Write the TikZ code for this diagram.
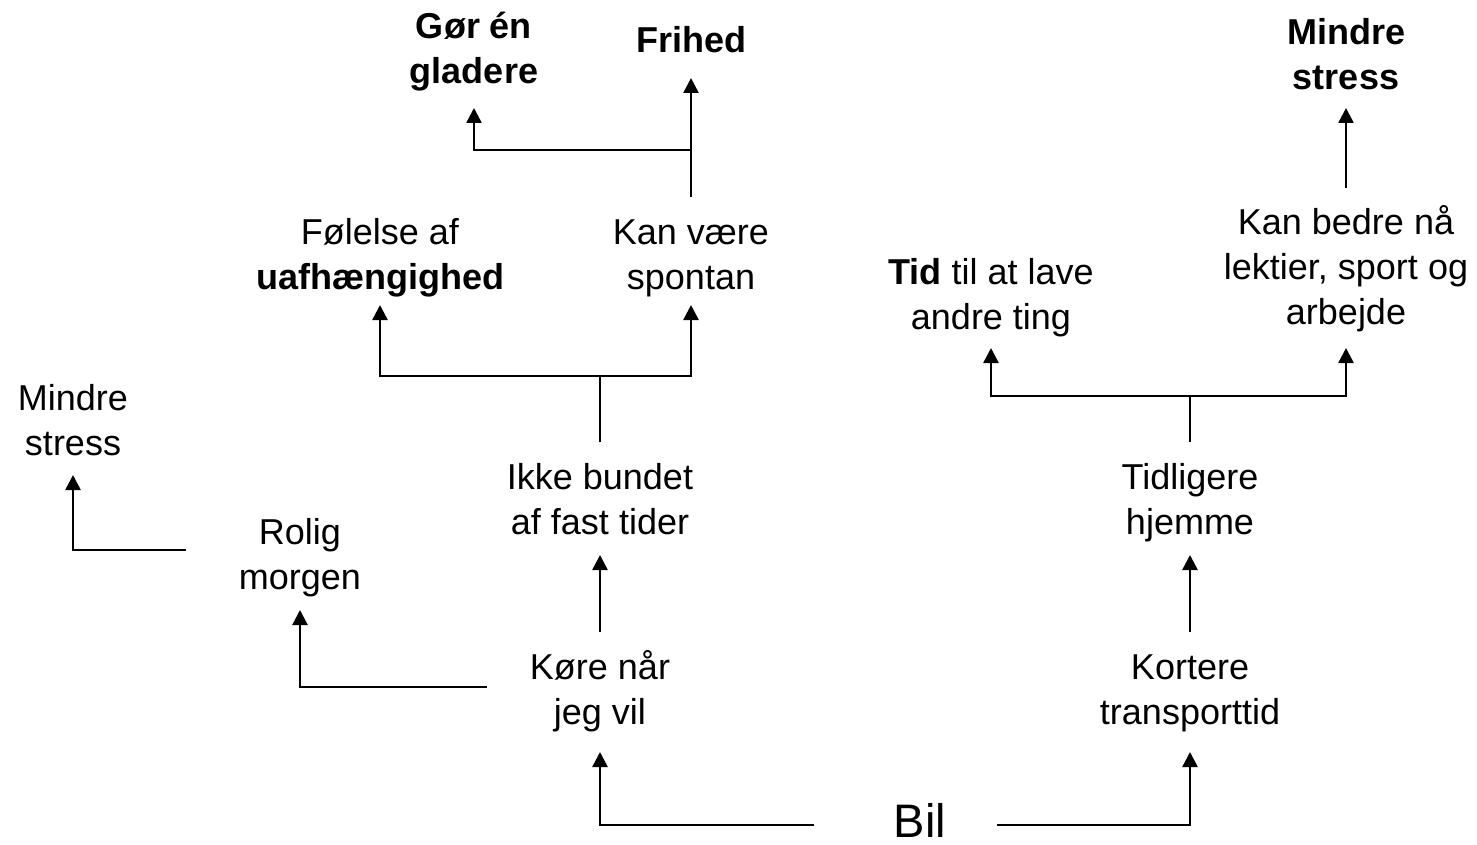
\documentclass[tikz,border=0pt]{standalone}
\usepackage{fontspec}
\setmainfont{Liberation Sans}
\usetikzlibrary{arrows.meta}
\begin{document}
\begin{tikzpicture}[x=1pt,y=-1pt,
  lbl/.style={align=center,inner sep=0pt,anchor=base,font=\fontsize{36}{45}\selectfont},
  biglbl/.style={inner sep=0pt,anchor=base,font=\fontsize{47}{56}\selectfont},
  ln/.style={line width=2.5pt},
  arr/.style={line width=2.5pt,-{Triangle[length=15pt,width=15pt]}}]
\useasboundingbox (0,0) rectangle (1477,845);

% nodes (placed by the baseline of their last line)
\node[lbl] (gor) at (474,84) {\textbf{Gør én}\\\textbf{gladere}};
\node[lbl] (frihed) at (691,53) {\textbf{Frihed}};
\node[lbl] (mindreR) at (1346,90) {\textbf{Mindre}\\\textbf{stress}};
\node[lbl] (folelse) at (380,289) {Følelse af\\\textbf{uafhængighed}};
\node[lbl] (kanvaere) at (691,289) {Kan være\\spontan};
\node[lbl] (tid) at (991,329) {\textbf{Tid} til at lave\\andre ting};
\node[lbl] (kanbedre) at (1346,324) {Kan bedre nå\\lektier, sport og\\arbejde};
\node[lbl] (mindreL) at (73,455) {Mindre\\stress};
\node[lbl] (ikke) at (600,534) {Ikke bundet\\af fast tider};
\node[lbl] (tidligere) at (1190,534) {Tidligere\\hjemme};
\node[lbl] (rolig) at (300,589) {Rolig\\morgen};
\node[lbl] (kore) at (600,724) {Køre når\\jeg vil};
\node[lbl] (kortere) at (1190,724) {Kortere\\transporttid};
\node[biglbl] (bil) at (920,837) {Bil};

% junctions
\coordinate (j1) at ([yshift=158pt]ikke.base);
\coordinate (j2) at ([yshift=139pt]kanvaere.base);
\coordinate (j3) at ([yshift=138pt]tidligere.base);

% connectors
\draw[arr] ([xshift=-80pt,yshift=12pt]bil.base west) -| ([yshift=-28pt]kore.base);
\draw[arr] ([xshift=51pt,yshift=12pt]bil.base east) -| ([yshift=-28pt]kortere.base);
\draw[arr] ([yshift=92pt]kore.base) -- ([yshift=-21pt]ikke.base);
\draw[arr] ([yshift=92pt]kortere.base) -- ([yshift=-21pt]tidligere.base);
\draw[arr] ([xshift=-113pt,yshift=37pt]kore.base) -| ([yshift=-21pt]rolig.base);
\draw[arr] ([xshift=-114pt,yshift=39pt]rolig.base) -| ([yshift=-20pt]mindreL.base);

\draw[ln] ([yshift=92pt]ikke.base) -- (j1);
\draw[arr] (j1) -| ([yshift=-16pt]folelse.base);
\draw[arr] (j1) -| ([yshift=-16pt]kanvaere.base);

\draw[arr] ([yshift=92pt]kanvaere.base) -- ([yshift=-25pt]frihed.base);
\draw[arr] (j2) -| ([yshift=-24pt]gor.base);

\draw[ln] ([yshift=92pt]tidligere.base) -- (j3);
\draw[arr] (j3) -| ([yshift=-19pt]tid.base);
\draw[arr] (j3) -| ([yshift=-24pt]kanbedre.base);

\draw[arr] ([yshift=136pt]kanbedre.base) -- ([yshift=-18pt]mindreR.base);
\end{tikzpicture}
\end{document}
